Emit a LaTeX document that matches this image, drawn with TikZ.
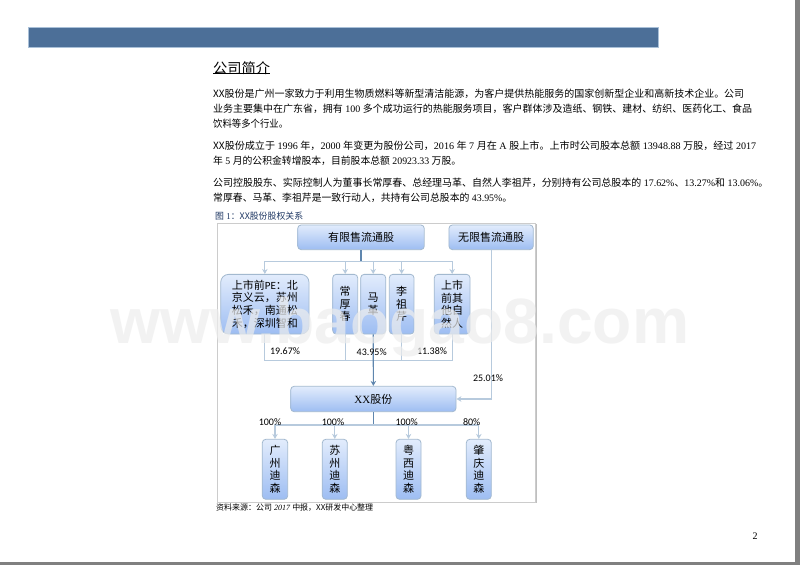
\documentclass[tikz,border=0pt]{standalone}
\usepackage{fontspec}
\usetikzlibrary{arrows.meta}
\setmainfont{Liberation Serif}
\newfontfamily\cjk{Noto Sans CJK SC}
\newfontfamily\cali{Carlito}
\newfontfamily\wmfont{Liberation Sans}
\newcommand{\C}[1]{{\cjk #1}}
\definecolor{barblue}{HTML}{4C6F98}
\definecolor{baredge}{HTML}{A9C0D8}
\definecolor{boxedge}{HTML}{A3B9CF}
\definecolor{boxtop}{HTML}{E2ECFC}
\definecolor{boxbot}{HTML}{9DBDF2}
\definecolor{linklight}{HTML}{B7CADD}
\definecolor{linkdark}{HTML}{5F86AE}
\definecolor{capblue}{HTML}{1F3864}
\tikzset{
  orgbox/.style={draw=boxedge,line width=.8pt,top color=boxtop,bottom color=boxbot,rounded corners=3.5pt,inner sep=0pt,align=center,text=black,font=\cjk\fontsize{11}{12.6}\selectfont},
  link/.style={draw=linklight,line width=1.1pt},
  darklink/.style={draw=linkdark,line width=1.1pt},
  tip/.style={-{Stealth[length=5pt,width=5.5pt]}},
  pct/.style={font=\cali\fontsize{10}{12}\selectfont,inner sep=0pt},
  para/.style={anchor=base west,inner sep=0pt,font=\fontsize{10}{12}\selectfont},
}
\newcommand{\fitline}[5]{\node[para] (#1) at (#2,#3) {\resizebox{#4pt}{\height}{#5}};}
\begin{document}
\begin{tikzpicture}[x=1pt,y=-1pt]
\useasboundingbox (0,0) rectangle (800,565);
\fill[white] (0,0) rectangle (800,565);
\fill[gray] (795,0) rectangle (800,565);
\fill[gray] (0,562) rectangle (800,565);
\draw[fill=barblue,draw=baredge,line width=.6pt] (28.5,27.5) rectangle (658.5,47.5);
% text
\node[anchor=base west,inner sep=0pt,font=\cjk\fontsize{14}{16}\selectfont] (title) at (213,73) {\resizebox{57pt}{\height}{公司简介}};
\draw[line width=.7pt] (title.south west |- 0,73.5) -- (title.south east |- 0,73.5);
\fitline{a}{213}{97}{531}{\C{XX股份是广州一家致力于利用生物质燃料等新型清洁能源，为客户提供热能服务的国家创新型企业和高新技术企业。公司}}
\fitline{b}{213}{112.5}{539}{\C{业务主要集中在广东省，拥有} 100 \C{多个成功运行的热能服务项目，客户群体涉及造纸、钢铁、建材、纺织、医药化工、食品}}
\fitline{c}{213}{127}{75}{\C{饮料等多个行业。}}
\fitline{d}{213}{149.5}{543}{\C{XX股份成立于} 1996 \C{年，}2000 \C{年变更为股份公司，}2016 \C{年} 7 \C{月在} A \C{股上市。上市时公司股本总额} 13948.88 \C{万股，经过} 2017}
\fitline{e}{213}{164}{248}{\C{年} 5 \C{月的公积金转增股本，目前股本总额} 20923.33 \C{万股。}}
\fitline{f}{213}{186}{555}{\C{公司控股股东、实际控制人为董事长常厚春、总经理马革、自然人李祖芹，分别持有公司总股本的} 17.62\%\C{、}13.27\%\C{和} 13.06\%\C{。}}
\fitline{g}{213}{201}{299}{\C{常厚春、马革、李祖芹是一致行动人，共持有公司总股本的} 43.95\%\C{。}}
\node[anchor=base west,inner sep=0pt,text=capblue,font=\fontsize{9}{11}\selectfont] (cap) at (215,219) {\resizebox{88pt}{\height}{\C{图} 1\C{：XX股份股权关系}}};
\node[anchor=base west,inner sep=0pt,font=\fontsize{8}{10}\selectfont] (src) at (216,510) {\resizebox{157pt}{\height}{\C{资料来源：公司} \textit{2017} \C{中报，XX研发中心整理}}};
\node[inner sep=0pt,font=\fontsize{10}{12}\selectfont] (page) at (755,535.7) {2};
% frame
\fill[gray!50] (218,224) rectangle (536.5,503.3);
\draw[draw=gray!40,fill=white,line width=.9pt] (217,223) rectangle (535.5,502.3);
% boxes
\node[orgbox,minimum width=126.6pt,minimum height=24.7pt] (lim) at (361,237.3) {有限售流通股};
\node[orgbox,minimum width=84.3pt,minimum height=24.7pt] (free) at (491.1,237.3) {无限售流通股};
\node[orgbox,rounded corners=8pt,minimum width=88.3pt,minimum height=59.7pt] (pe) at (264.85,304.2) {上市前{\cali PE}：北\\京义云，苏州\\松禾，南通松\\禾，深圳智和};
\node[orgbox,minimum width=25pt,minimum height=59.7pt] (chang) at (345.2,304.2) {常\\厚\\春};
\node[orgbox,minimum width=25pt,minimum height=59.7pt] (ma) at (373.2,304.2) {马\\革};
\node[orgbox,minimum width=24.7pt,minimum height=59.7pt] (li) at (401.65,304.2) {李\\祖\\芹};
\node[orgbox,minimum width=35.7pt,minimum height=59.7pt] (other) at (452.15,304.2) {上市\\前其\\他自\\然人};
\node[orgbox,minimum width=165.3pt,minimum height=25.4pt] (xx) at (373.35,399) {{\rmfamily XX}股份};
\node[orgbox,minimum width=25.4pt,minimum height=60pt] (gz) at (275,469.3) {广\\州\\迪\\森};
\node[orgbox,minimum width=25pt,minimum height=60pt] (sz) at (334.8,469.3) {苏\\州\\迪\\森};
\node[orgbox,minimum width=25pt,minimum height=60pt] (yx) at (408.5,469.3) {粤\\西\\迪\\森};
\node[orgbox,minimum width=25pt,minimum height=60pt] (zq) at (478.8,469.3) {肇\\庆\\迪\\森};
% connector junctions
\coordinate (busa) at (361,261.7);
\coordinate (busb) at (373.2,360.3);
\coordinate (busc) at (373.35,425);
\coordinate (bend) at (491.1,399);
% upper fan-out
\draw[darklink] (lim.south) -- (busa);
\draw[link,tip] (busa) -| (pe.north);
\draw[link,tip] (busa) -| (chang.north);
\draw[link,tip] (busa) -| (ma.north);
\draw[link,tip] (busa) -| (li.north);
\draw[link,tip] (busa) -| (other.north);
% lower merge
\draw[link] (pe.south) |- (busb);
\draw[link] (chang.south) |- (busb);
\draw[link] (li.south) |- (busb);
\draw[link] (other.south) |- (busb);
\draw[darklink,tip] (ma.south) -- (xx.north);
% free float
\draw[link,tip] (free.south) -- (bend) -- (xx.east);
% subsidiaries
\draw[darklink] (xx.south) -- (busc);
\draw[link,tip] (busc) -| (gz.north);
\draw[link,tip] (busc) -| (sz.north);
\draw[link,tip] (busc) -| (yx.north);
\draw[link,tip] (busc) -| (zq.north);
% percentages
\node[pct] (p1) at (285,351) {19.67\%};
\node[pct] (p2) at (371.7,352) {43.95\%};
\node[pct] (p3) at (432,351) {11.38\%};
\node[pct] (p4) at (488,377.7) {25.01\%};
\node[pct] (s1) at (270,422) {100\%};
\node[pct] (s2) at (333,422) {100\%};
\node[pct] (s3) at (406.7,422) {100\%};
\node[pct] (s4) at (471.7,422) {80\%};
% watermark
\node[anchor=base west,inner sep=0pt,text=black!7,text opacity=.7,font=\wmfont\bfseries\fontsize{64}{70}\selectfont] (wm) at (110,343) {\resizebox{579pt}{\height}{www.baogao8.com}};
\end{tikzpicture}
\end{document}
